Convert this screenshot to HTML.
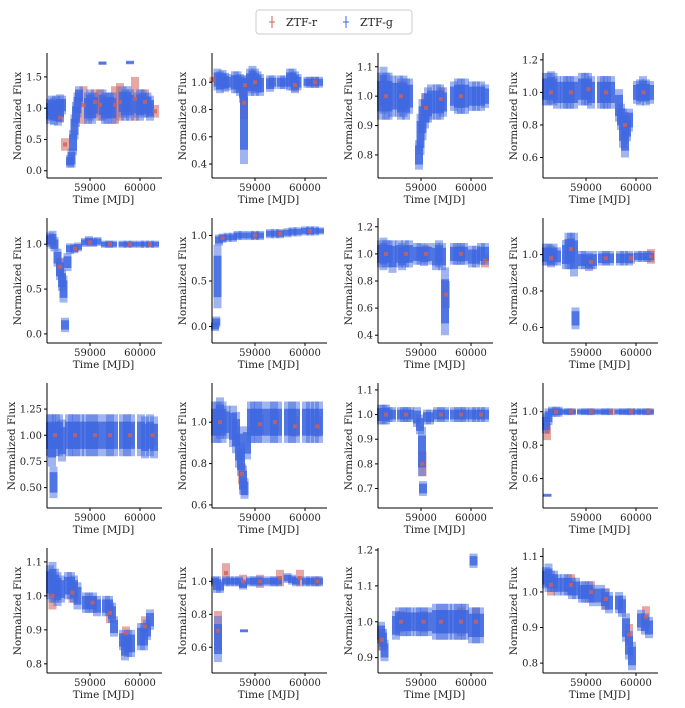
<!DOCTYPE html>
<html><head><meta charset="utf-8"><style>
body{margin:0;background:#fff;width:685px;height:703px;overflow:hidden}
svg text{font-family:"DejaVu Serif","Liberation Serif",serif;fill:#222}
</style></head><body>
<svg id="c" width="685" height="703">
<g>
<rect x="256" y="10" width="156" height="24" fill="#fff" stroke="#ccc" rx="3"/>
<g><line x1="272" y1="16" x2="272" y2="28" stroke="#d0605a"/><line x1="269" y1="22" x2="275" y2="22" stroke="#d0605a"/><text x="286" y="26" font-size="11">ZTF-r</text></g>
<g><line x1="346" y1="16" x2="346" y2="28" stroke="#4169e1"/><line x1="343" y1="22" x2="349" y2="22" stroke="#4169e1"/><text x="360" y="26" font-size="11">ZTF-g</text></g>
</g>
</svg>
<script>
const xTicks=[59000,60000];
const xDomain=[58140,60400];
const yDomains=[[-0.1,1.85],[0.305,1.2],[0.725,1.14],[0.48,1.23],[-0.09,1.27],[-0.17,1.17],[0.35,1.25],[0.52,1.19],[0.315,1.48],[0.59,1.18],[0.625,1.12],[0.43,1.16],[0.776,1.135],[0.45,1.19],[0.86,1.2],[0.775,1.118]];
const yTicks=[[0,0.5,1,1.5],[0.4,0.6,0.8,1.0],[0.8,0.9,1.0,1.1],[0.6,0.8,1.0,1.2],[0,0.5,1],[0,0.5,1],[0.4,0.6,0.8,1.0,1.2],[0.6,0.8,1.0],[0.5,0.75,1.0,1.25],[0.6,0.8,1.0],[0.7,0.8,0.9,1.0,1.1],[0.6,0.8,1.0],[0.8,0.9,1.0,1.1],[0.6,0.8,1.0],[0.9,1.0,1.1,1.2],[0.8,0.9,1.0,1.1]];
const yTickDec=[1,1,1,1,1,1,1,1,2,1,1,1,1,1,1,1];
const blue=[
[[58200,.95,.2],[58240,1,.2],[58280,.95,.22],[58320,1,.2],[58360,.92,.2],[58400,1,.22],[58440,1.05,.15],[58600,.15,.1],[58630,.2,.15],[58660,.45,.2],[58690,.7,.2],[58720,.9,.2],[58750,1.05,.2],[58780,1.2,.15],[58960,1,.25],[59000,1.05,.25],[59040,1,.25],[59080,1.05,.2],[59250,1.05,.25],[59300,1,.25],[59350,1,.25],[59400,1.05,.2],[59450,1,.25],[59650,1.1,.25],[59700,1.05,.25],[59750,1.1,.25],[59800,1.05,.25],[59950,1.05,.2],[60000,1.05,.25],[60050,1.1,.2],[60100,1.05,.2],[60150,1.05,.2],[60200,1.0,.2],[59250,1.72,.03],[59800,1.73,.03]],
[[58250,1.02,.08],[58300,1,.08],[58350,1.02,.07],[58400,1,.07],[58450,1.0,.06],[58600,1,.08],[58650,1,.08],[58700,.98,.08],[58760,.95,.1],[58780,.7,.3],[58800,1,.05],[58900,1,.1],[58950,1.02,.1],[59000,1,.1],[59050,1,.08],[59100,.98,.08],[59300,.99,.06],[59350,1,.05],[59520,1,.05],[59580,1,.05],[59700,1.02,.08],[59750,1.02,.08],[59800,1,.08],[59850,1,.06],[60050,1,.04],[60100,1,.04],[60200,1,.04],[60280,1,.04]],
[[58200,1,.08],[58250,1.02,.08],[58300,1,.08],[58350,1,.08],[58420,1,.07],[58560,1,.07],[58600,.99,.07],[58650,1,.07],[58700,.99,.07],[58760,1,.06],[58960,.8,.05],[58990,.87,.07],[59030,.92,.07],[59080,.95,.06],[59140,.97,.06],[59200,.98,.06],[59320,.98,.06],[59380,.98,.06],[59440,.98,.05],[59660,1,.05],[59740,1,.06],[59800,1,.06],[59880,1,.06],[60020,1,.05],[60100,1,.05],[60200,1,.05],[60280,1,.04]],
[[58200,1.02,.1],[58250,1.02,.1],[58300,1.03,.1],[58350,1.02,.1],[58420,1.0,.1],[58560,1.0,.1],[58620,1,.1],[58680,1,.1],[58760,1,.1],[58920,1.02,.1],[58980,1.02,.1],[59040,1.02,.1],[59100,1,.1],[59300,1.0,.1],[59360,1,.1],[59420,1,.1],[59500,1,.1],[59660,.92,.1],[59700,.85,.08],[59740,.78,.12],[59780,.72,.12],[59820,.78,.08],[59860,.83,.07],[60020,1,.07],[60080,1,.08],[60140,1.02,.08],[60200,1,.08],[60280,1,.07]],
[[58200,1.05,.08],[58250,1.05,.1],[58290,1,.08],[58350,.85,.1],[58400,.72,.12],[58440,.6,.12],[58470,.5,.15],[58500,.1,.08],[58550,.8,.1],[58600,.95,.06],[58680,.95,.05],[58760,.97,.05],[58900,1.02,.05],[58980,1.04,.05],[59060,1.02,.05],[59150,1.03,.05],[59300,1,.04],[59380,1,.04],[59460,1,.04],[59650,1,.04],[59750,1,.04],[59850,1,.04],[60000,1,.04],[60100,1,.04],[60200,1,.04],[60300,1,.04]],
[[58200,0,.05],[58225,.05,.06],[58250,.55,.35],[58280,.95,.06],[58350,.97,.05],[58450,.98,.05],[58560,.98,.05],[58650,1,.05],[58750,1,.05],[58900,1,.05],[59000,1,.05],[59100,1,.05],[59300,1.02,.05],[59400,1.02,.05],[59500,1.02,.05],[59650,1.03,.05],[59750,1.04,.05],[59850,1.04,.05],[60000,1.05,.05],[60100,1.05,.05],[60200,1.05,.05],[60300,1.05,.04]],
[[58200,1,.1],[58250,1,.12],[58300,1,.1],[58350,1,.1],[58430,.98,.12],[58560,1,.1],[58620,.98,.1],[58680,1,.1],[58760,1,.1],[58920,1,.08],[58990,1,.08],[59060,.99,.08],[59140,1,.08],[59300,.98,.1],[59360,1,.1],[59420,.98,.1],[59480,.65,.25],[59660,1,.08],[59720,1,.08],[59800,1,.08],[59860,1,.08],[60020,.98,.08],[60100,.98,.08],[60200,1,.08],[60280,1,.08]],
[[58200,1,.06],[58250,1,.06],[58300,.99,.06],[58350,1,.06],[58420,.99,.05],[58600,1,.08],[58650,1.02,.1],[58700,1.02,.1],[58760,1.0,.12],[58790,.65,.06],[58920,.97,.05],[58980,.97,.05],[59060,.96,.05],[59140,.97,.05],[59320,.98,.04],[59400,.98,.04],[59480,.98,.04],[59680,.98,.04],[59760,.98,.04],[59860,.98,.04],[60040,.99,.03],[60120,.99,.03],[60220,.99,.03],[60280,.99,.03]],
[[58200,1,.2],[58240,.95,.25],[58270,.55,.15],[58320,1,.2],[58380,1,.2],[58440,.95,.2],[58580,1,.2],[58640,1,.2],[58720,1,.2],[58800,1,.2],[58920,1,.2],[59000,1,.2],[59080,1,.2],[59160,1,.2],[59320,1,.2],[59400,1,.2],[59480,1,.2],[59660,1,.2],[59740,1,.2],[59820,1,.2],[60020,1,.2],[60100,.98,.2],[60200,1,.2],[60280,.98,.2]],
[[58200,1,.1],[58250,1,.1],[58300,1.02,.1],[58350,1,.1],[58430,1,.08],[58560,.98,.1],[58620,.95,.1],[58680,.88,.1],[58720,.82,.08],[58760,.72,.07],[58790,.68,.05],[58840,.9,.08],[58920,1,.1],[58980,1,.1],[59060,1,.1],[59140,1,.1],[59300,1,.1],[59380,1,.1],[59460,1,.1],[59660,1,.1],[59740,1,.1],[59820,1,.1],[60020,1,.1],[60100,1,.1],[60200,1,.1],[60280,1,.1]],
[[58200,1,.04],[58250,1,.04],[58300,1,.04],[58350,1,.03],[58420,1,.03],[58600,1,.03],[58660,1,.03],[58720,1,.03],[58780,1,.03],[58920,.99,.04],[58980,.96,.04],[59020,.85,.1],[59040,.7,.03],[59120,.99,.03],[59180,.99,.03],[59320,1,.03],[59400,1,.03],[59480,1,.03],[59660,1,.03],[59740,1,.03],[59820,1,.03],[59880,1,.03],[60020,1,.03],[60100,1,.03],[60200,1,.03],[60280,1,.03]],
[[58200,.93,.06],[58230,.5,.01],[58250,.97,.05],[58320,1,.03],[58400,1,.03],[58450,1,.03],[58560,1,.02],[58640,1,.02],[58720,1,.02],[58900,1,.02],[58980,1,.02],[59060,1,.02],[59150,1,.02],[59300,1,.02],[59380,1,.02],[59460,1,.02],[59650,1,.02],[59740,1,.02],[59820,1,.02],[59900,1,.02],[60020,1,.02],[60100,1,.02],[60200,1,.02],[60280,1,.02]],
[[58200,1.04,.05],[58250,1.04,.06],[58300,1.03,.05],[58350,1.02,.05],[58420,1.02,.04],[58560,1.03,.04],[58620,1.03,.04],[58680,1.02,.04],[58750,1.0,.04],[58920,.98,.03],[58980,.98,.03],[59060,.98,.03],[59140,.97,.03],[59320,.97,.03],[59380,.97,.03],[59440,.95,.03],[59480,.91,.03],[59660,.87,.03],[59700,.85,.04],[59760,.86,.04],[59820,.86,.04],[60020,.88,.04],[60080,.88,.04],[60140,.9,.03],[60200,.93,.03]],
[[58200,1,.03],[58240,.98,.05],[58260,.65,.14],[58300,.97,.04],[58420,1,.03],[58500,1,.03],[58600,1,.03],[58680,1,.03],[58760,.98,.03],[58780,.7,.01],[58900,1,.03],[58980,1,.03],[59060,1,.03],[59140,1,.03],[59300,1,.03],[59380,1,.03],[59460,1,.03],[59650,1.02,.03],[59740,1.01,.03],[59820,1,.03],[60020,1,.03],[60100,1,.03],[60200,1,.03],[60280,1,.03]],
[[58200,.97,.03],[58240,.95,.03],[58270,.92,.03],[58500,.99,.04],[58560,1,.04],[58640,1,.04],[58720,1,.04],[58780,1,.04],[58920,1,.04],[58980,1,.04],[59060,1,.04],[59140,1,.04],[59300,1,.05],[59380,1,.05],[59460,1,.05],[59540,1,.05],[59660,1,.05],[59740,1,.05],[59820,1,.05],[59880,1,.05],[60020,.99,.05],[60050,1.17,.02],[60100,.99,.05],[60180,.99,.05]],
[[58200,1.04,.03],[58250,1.04,.04],[58300,1.03,.03],[58360,1.03,.03],[58430,1.02,.03],[58560,1.02,.03],[58640,1.02,.03],[58720,1.01,.03],[58800,1.01,.03],[58920,1,.03],[58980,1,.03],[59060,1,.03],[59140,.99,.03],[59300,.99,.03],[59380,.98,.03],[59460,.97,.03],[59660,.97,.03],[59720,.96,.03],[59800,.9,.04],[59860,.85,.04],[59920,.82,.04],[60100,.92,.03],[60180,.91,.03],[60260,.9,.03]]
];
const red=[
[[58400,.85,.08],[58500,.42,.1],[58870,1.05,.3],[59200,1.05,.25],[59500,1.05,.3],[59600,1.1,.3],[59900,1.15,.35],[60300,.95,.1],[59100,1.1,.2],[60100,1.1,.2]],
[[58170,1.02,.02],[58780,.85,.12],[58800,.98,.05],[59000,1.0,.05],[59800,.98,.05],[60200,1,.04]],
[[58300,1.0,.05],[58600,1,.05],[59100,.96,.05],[59400,.99,.04],[59800,1,.04]],
[[58300,1,.05],[58700,1,.06],[59050,1.02,.05],[59400,1,.05],[59780,.8,.08],[60150,1,.05]],
[[58400,.75,.1],[58700,.95,.04],[59000,1.02,.04],[59400,1,.03],[59800,1,.03],[60200,1,.03]],
[[58350,.97,.04],[59000,1,.04],[59500,1.02,.04],[60100,1.05,.04]],
[[58300,1,.06],[58700,1,.06],[59100,1,.06],[59500,.7,.1],[59800,1,.06],[60280,.95,.05]],
[[58300,.98,.04],[58700,1.03,.06],[59100,.96,.04],[59400,.98,.03],[59900,.98,.03],[60300,.99,.04]],
[[58300,1,.1],[58700,1,.1],[59100,1,.1],[59400,1,.1],[59800,1,.1],[60250,1,.1]],
[[58300,1,.05],[58740,.75,.05],[59100,.99,.05],[59400,1,.05],[59800,.98,.05],[60250,.98,.05]],
[[58300,1,.02],[58700,1,.02],[59030,.8,.05],[59400,1,.02],[59800,1,.02],[60200,1,.02]],
[[58220,.88,.05],[58400,1,.02],[58700,1,.02],[59100,1,.02],[59500,1,.02],[59900,1,.02],[60250,1,.02]],
[[58250,1.0,.04],[58650,1.01,.03],[59050,.98,.02],[59400,.95,.03],[59720,.89,.02],[60100,.91,.03]],
[[58260,.7,.12],[58420,1.05,.06],[58760,1,.04],[59100,1,.04],[59500,1.02,.05],[59900,1.02,.05],[60250,1,.03]],
[[58220,.95,.03],[58600,1,.03],[59050,1,.03],[59400,1,.03],[59800,1,.04],[60100,1,.04]],
[[58300,1.02,.03],[58700,1.02,.03],[59100,1,.03],[59400,.98,.03],[59860,.88,.03],[60200,.93,.03]]
];
const NS="http://www.w3.org/2000/svg";
const svg=document.getElementById('c');
function mk(tag,attrs,parent){const e=document.createElementNS(NS,tag);for(const k in attrs)e.setAttribute(k,attrs[k]);parent.appendChild(e);return e;}
const colX=[47,212,378,543], rowY=[55,220,385,550], W=113, H=122;
for(let p=0;p<16;p++){
  const L=colX[p%4], T=rowY[Math.floor(p/4)], B=T+H;
  const g=mk('g',{},svg);
  
  
  const [y0,y1]=yDomains[p];
  const sx=t=>L+(t-xDomain[0])/(xDomain[1]-xDomain[0])*W;
  const sy=v=>B-(v-y0)/(y1-y0)*H;
  const band=(d,f)=>({y:sy(d[1]+d[2]*f),h:Math.max(2,sy(d[1]-d[2]*f)-sy(d[1]+d[2]*f))});
  red[p].forEach(d=>{const b=band(d,1);const r=mk('rect',{x:sx(d[0])-4,y:b.y,width:8,height:b.h,fill:'#d0605a',opacity:0.55},g);
    
    });
  blue[p].forEach(d=>{const b=band(d,1);const r=mk('rect',{x:sx(d[0])-4,y:b.y,width:8,height:b.h,fill:'#4169e1',opacity:0.5},g);
    
    
    const c=band(d,0.65);const r2=mk('rect',{x:sx(d[0])-4,y:c.y,width:8,height:c.h,fill:'#4169e1',opacity:0.85},g);
    
    });
  red[p].forEach(d=>{const r=mk('rect',{x:sx(d[0])-2,y:sy(d[1])-2,width:4,height:4,fill:'#d0605a',opacity:0.8},g);
    
    });
  mk('line',{x1:L,y1:T-2,x2:L,y2:B+1,stroke:'#000','stroke-width':1},g);
  mk('line',{x1:L,y1:B+1,x2:L+W+2,y2:B+1,stroke:'#000','stroke-width':1},g);
  xTicks.forEach(t=>{mk('line',{x1:sx(t),y1:B+1,x2:sx(t),y2:B+4,stroke:'#000'},g);
    const tx=mk('text',{x:sx(t),y:B+14,'font-size':10,'text-anchor':'middle'},g);tx.textContent=t;
    
    });
  yTicks[p].forEach(v=>{mk('line',{x1:L-3,y1:sy(v),x2:L,y2:sy(v),stroke:'#000'},g);
    const tx=mk('text',{x:L-5,y:sy(v)+3.5,'font-size':10,'text-anchor':'end'},g);tx.textContent=v.toFixed(yTickDec[p]);
    
    });
  const xl=mk('text',{x:L+W/2,y:B+26,'font-size':10.5,'text-anchor':'middle'},g);xl.textContent='Time [MJD]';
  
  
  const lx=L-(yTickDec[p]==2?32:26);
  const yl=mk('text',{x:lx,y:T+H/2,'font-size':10.5,'text-anchor':'middle',transform:`rotate(-90 ${lx} ${T+H/2})`},g);yl.textContent='Normalized Flux';
  
  
}
</script>
</body></html>
